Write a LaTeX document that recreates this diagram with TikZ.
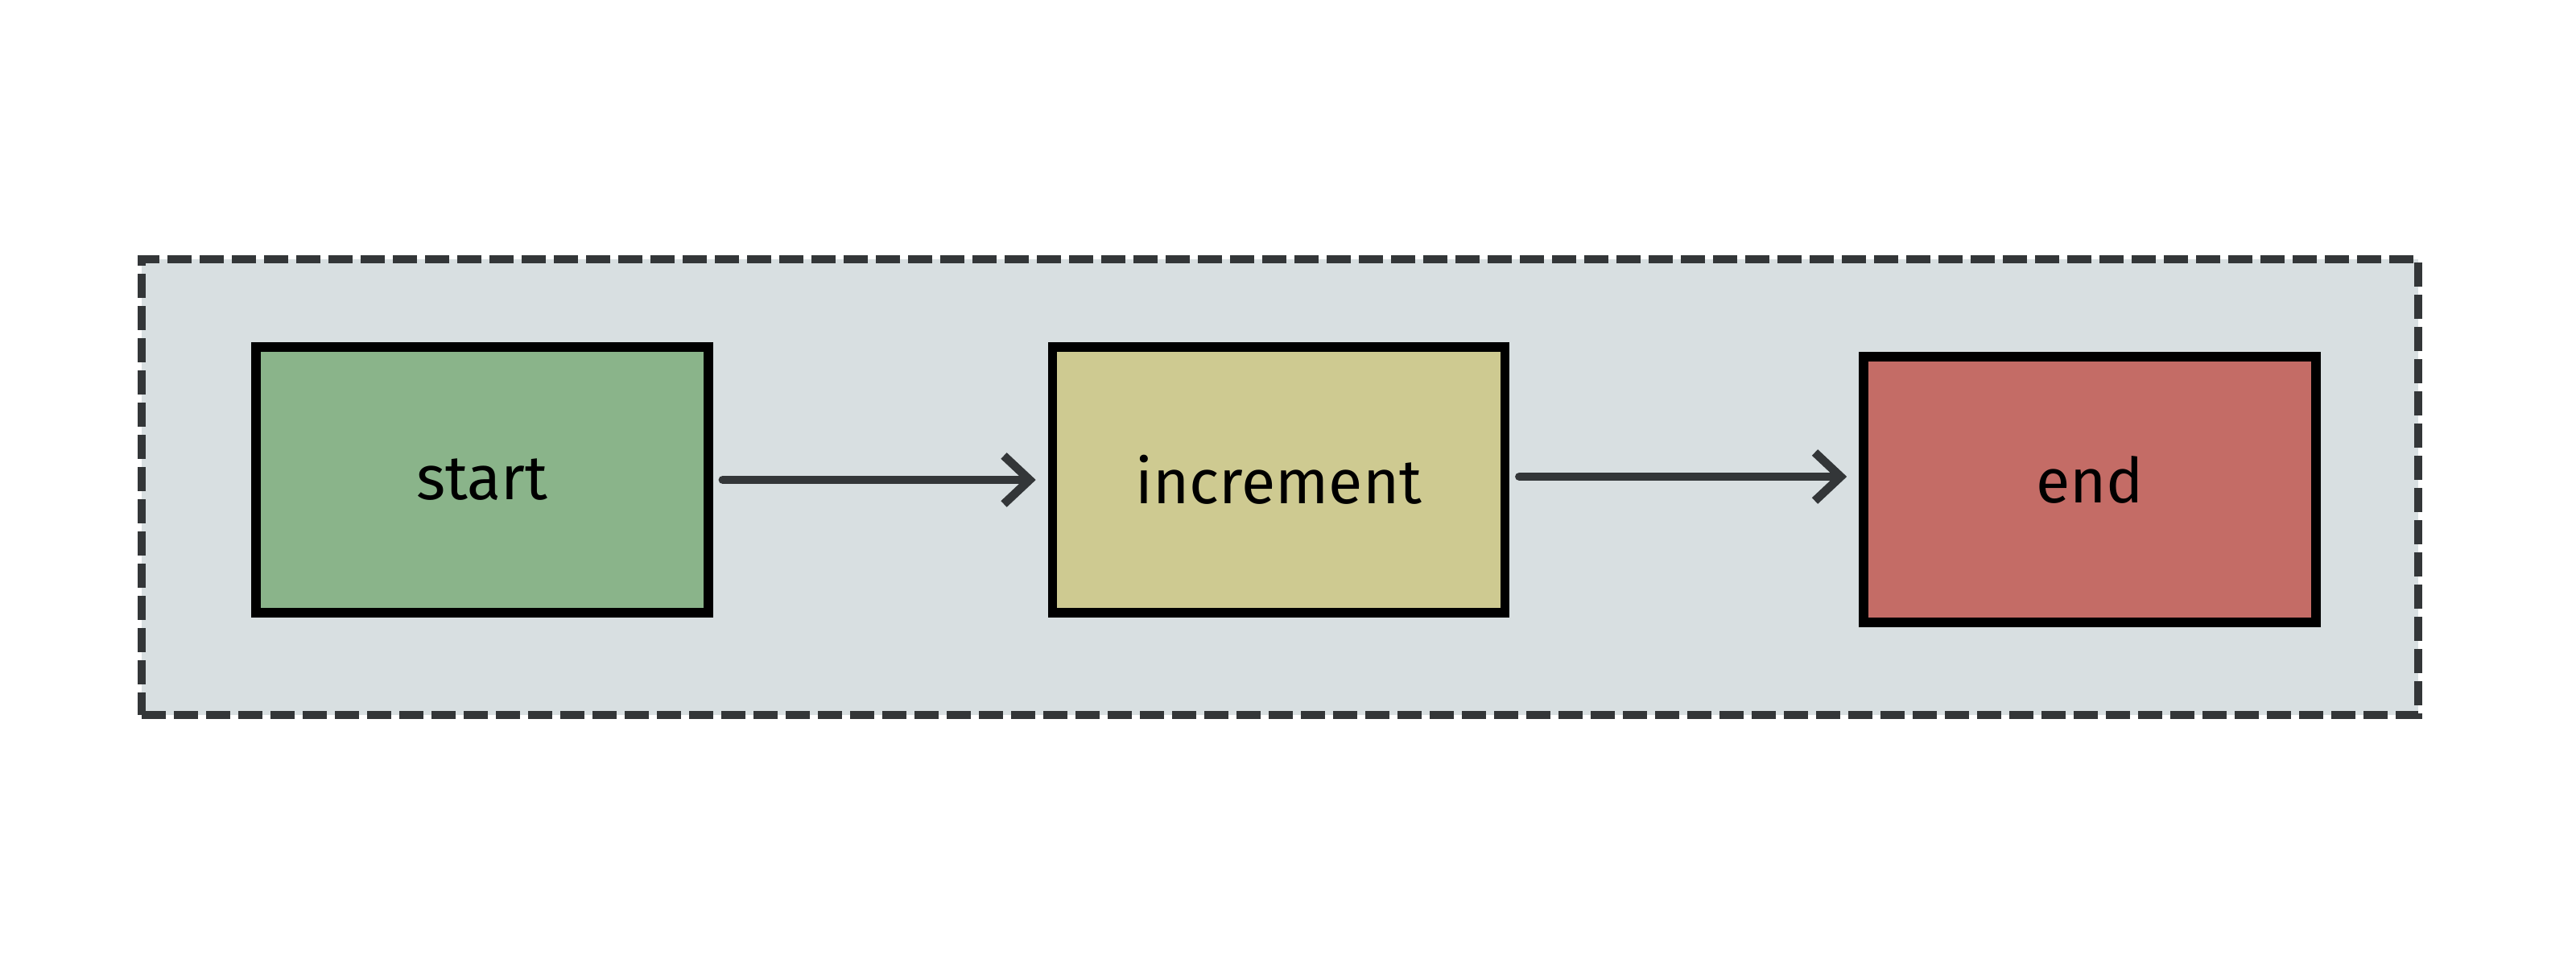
\documentclass[tikz,border=0pt]{standalone}
\usepackage{fontspec}
\setmainfont{Fira Sans}
\usetikzlibrary{arrows.meta}
\definecolor{panel}{HTML}{D8DFE1}
\definecolor{ink}{HTML}{333638}
\definecolor{cgreen}{HTML}{8AB48A}
\definecolor{cyellow}{HTML}{CECA91}
\definecolor{cred}{HTML}{C46C66}
\tikzset{
  labelfont/.style={font=\fontsize{22}{26}\selectfont},
  stepbox/.style={draw=black, line width=3.3pt, minimum width=5.62cm, minimum height=3.3cm, inner sep=0pt, labelfont},
  flow/.style={draw=ink, line width=3pt, line cap=round, -{Straight Barb[length=0.32cm, width=0.6cm, line width=3pt]}, shorten <=0.12cm, shorten >=0.15cm}
}
\begin{document}
\begin{tikzpicture}
\useasboundingbox (0,0) rectangle (32,12);
\fill[white] (0,0) rectangle (32,12);
\node[draw=ink, fill=panel, dash pattern=on 0.3cm off 0.1cm, line width=3pt, minimum width=28.28cm, minimum height=5.66cm, inner sep=0pt] (panel) at (15.9,5.95) {};
\node[stepbox, fill=cgreen] (start) at (5.99,6.04) {start};
\node[stepbox, fill=cyellow] (inc) at (15.885,6.04) {increment};
\node[stepbox, fill=cred, label={[labelfont, yshift=0.12cm]center:end}] (end) at (25.96,5.92) {};
\draw[flow] (start.east) -- (inc.west);
\draw[flow] (inc.east |- 0,6.08) -- (end.west |- 0,6.08);
\end{tikzpicture}
\end{document}
